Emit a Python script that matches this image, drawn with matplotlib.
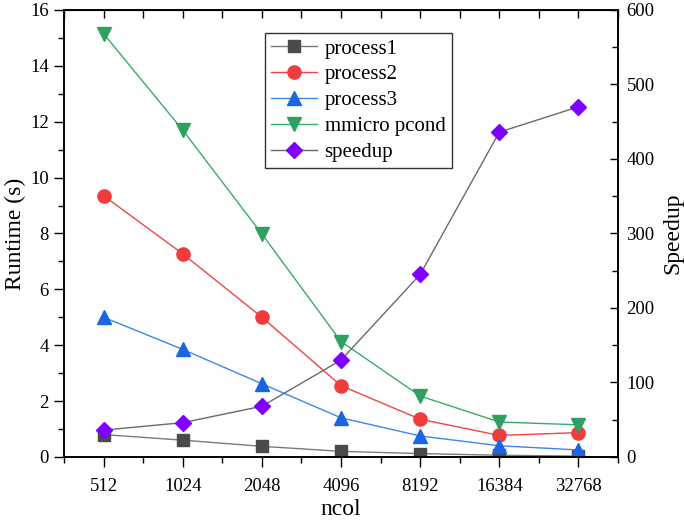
import matplotlib.pyplot as plt
from matplotlib.ticker import MultipleLocator, FixedLocator

plt.rcParams['font.family'] = ['Liberation Serif', 'DejaVu Serif']

ncol = ['512', '1024', '2048', '4096', '8192', '16384', '32768']
process1 = [0.80, 0.60, 0.38, 0.20, 0.12, 0.06, 0.03]
process2 = [9.35, 7.27, 5.00, 2.55, 1.35, 0.77, 0.87]
process3 = [5.00, 3.85, 2.62, 1.40, 0.75, 0.40, 0.25]
mmicro = [15.15, 11.70, 7.98, 4.13, 2.18, 1.25, 1.15]
speedup = [36, 46, 68, 130, 245, 436, 470]

x = list(range(len(ncol)))

fig = plt.figure(figsize=(6.84, 5.24), dpi=100)
ax = fig.add_axes([0.0936, 0.128, 0.81, 0.853])
ax2 = ax.twinx()

l1, = ax.plot(x, process1, color='#7a7a7a', lw=1, marker='s', ms=8,
              mfc='#4a4a4a', mec='#4a4a4a', label='process1')
l2, = ax.plot(x, process2, color='#f04545', lw=1, marker='o', ms=9.5,
              mfc='#f03c3c', mec='#f03c3c', label='process2')
l3, = ax.plot(x, process3, color='#3f86e8', lw=1, marker='^', ms=10,
              mfc='#1a66e0', mec='#1a66e0', label='process3')
l4, = ax.plot(x, mmicro, color='#3aaa6a', lw=1, marker='v', ms=10,
              mfc='#30a060', mec='#30a060', label='mmicro pcond')
l5, = ax2.plot(x, speedup, color='#6a6a6a', lw=1, marker='D', ms=8,
               mfc='#7f00ff', mec='#7f00ff', label='speedup')

ax.set_xlim(-0.5, 6.5)
ax.set_ylim(0, 16)
ax2.set_ylim(0, 600)

ax.set_xticks(x)
ax.set_xticklabels(ncol)
ax.xaxis.set_minor_locator(FixedLocator([i + 0.5 for i in range(-1, 7)]))
ax.yaxis.set_major_locator(MultipleLocator(2))
ax.yaxis.set_minor_locator(MultipleLocator(1))
ax2.yaxis.set_major_locator(MultipleLocator(100))
ax2.yaxis.set_minor_locator(MultipleLocator(50))

ax.tick_params(axis='x', which='major', direction='out', length=7, width=1,
               labelsize=13.5, pad=8, top=False)
ax.tick_params(axis='x', which='minor', direction='out', length=4, width=1, top=False)
ax.tick_params(axis='y', which='major', direction='out', length=7, width=1,
               labelsize=13.5, pad=4)
ax.tick_params(axis='y', which='minor', direction='out', length=4, width=1)
ax2.tick_params(axis='y', which='major', direction='in', length=6, width=1,
                labelsize=13.5, pad=6)
ax2.tick_params(axis='y', which='minor', direction='in', length=4, width=1)

# ticks on the top edge, pointing inwards
axt = ax.secondary_xaxis('top')
axt.set_xticks([i * 0.5 - 0.5 for i in range(15)])
axt.tick_params(direction='in', length=6, width=1, labeltop=False)

for a in (ax, ax2):
    for s in a.spines.values():
        s.set_linewidth(1.2)

ax.set_xlabel('ncol', fontsize=17, labelpad=3)
ax.set_ylabel('Runtime (s)', fontsize=17, labelpad=3)
ax2.set_ylabel('Speedup', fontsize=17, labelpad=6)

ax.legend(handles=[l1, l2, l3, l4, l5], loc='upper left',
          bbox_to_anchor=(0.363, 0.949),
          prop={'family': ['Liberation Serif'], 'size': 15}, frameon=True,
          fancybox=False, edgecolor='#333333', framealpha=1,
          handlelength=2.2, borderpad=0.3, borderaxespad=0,
          labelspacing=0.3, handletextpad=0.35)
ax.get_legend().get_frame().set_linewidth(1)

fig.savefig('out.png', dpi=100)
